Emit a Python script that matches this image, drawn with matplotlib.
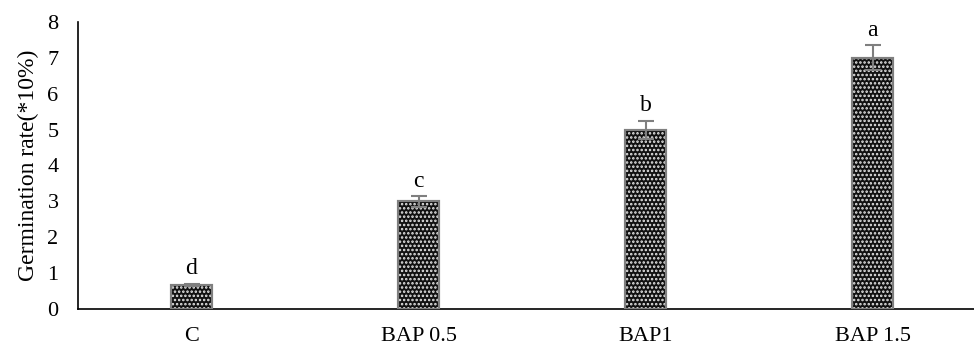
import matplotlib
matplotlib.use("Agg")
import matplotlib.pyplot as plt

categories = ["C", "BAP 0.5", "BAP1", "BAP 1.5"]
rates = [0.68, 3.0, 5.0, 7.0]
errors = [0.03, 0.15, 0.25, 0.35]
letters = ["d", "c", "b", "a"]

plt.rcParams['font.family'] = ['Liberation Serif', 'DejaVu Serif']
plt.rcParams['hatch.linewidth'] = 1.2

fig = plt.figure(figsize=(9.74, 3.49), dpi=100)
ax = fig.add_axes([78/974, 40/349, 896/974, 287/349])

x = range(len(categories))
ax.bar(x, rates, width=0.18, color="#111111", edgecolor="#7f7f7f", linewidth=1.5, zorder=2)
ax.bar(x, rates, width=0.18, color="none", edgecolor="#e8e8e8", hatch="....", linewidth=0, zorder=3)
ax.bar(x, rates, width=0.18, color="none", edgecolor="#7f7f7f", linewidth=1.5, zorder=4)
ax.errorbar(x, rates, yerr=errors, fmt="none", ecolor="#7f7f7f", elinewidth=1.5,
            capsize=6, capthick=1.5, zorder=5)

for i, (v, e, t) in enumerate(zip(rates, errors, letters)):
    ax.text(i, v + e + 0.12, t, ha="center", va="bottom", fontsize=17)

ax.set_xlim(-0.5, 3.447)
ax.set_ylim(0, 8)
ax.set_xticks(list(x))
ax.set_xticklabels(categories, fontsize=16)
ax.set_yticks(range(0, 9))
ax.tick_params(axis="both", length=0, labelsize=16)
ax.tick_params(axis="x", pad=13)
ax.tick_params(axis="y", pad=14)
ax.spines["top"].set_visible(False)
ax.spines["right"].set_visible(False)
ax.spines["left"].set_linewidth(1.2)
ax.spines["bottom"].set_linewidth(1.2)
ax.set_ylabel("Germination rate(*10%)", fontsize=17, labelpad=6)

fig.savefig("out.png", dpi=100)
